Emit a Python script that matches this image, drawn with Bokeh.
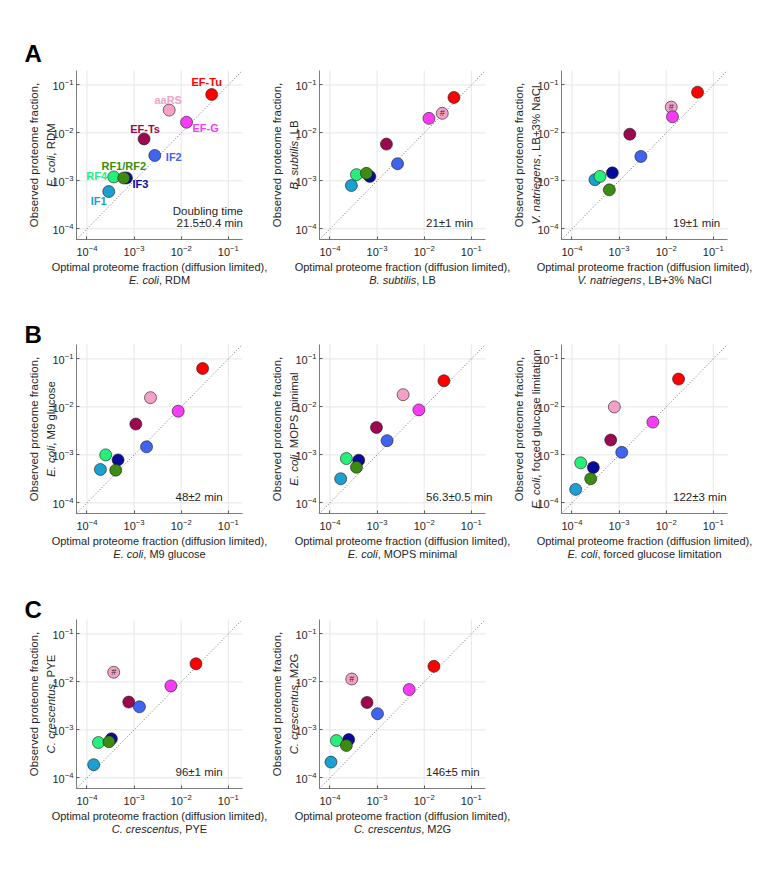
import math
from bokeh.plotting import figure
from bokeh.models import Label, ColumnDataSource, FixedTicker, LogAxis, LogScale, Range1d
from bokeh.core.properties import value
from bokeh.embed import file_html
from bokeh.resources import INLINE

# ---------------- data ----------------
proteins = ["EF-Tu", "aaRS", "EF-G", "EF-Ts", "IF2", "IF3", "IF1", "RF4", "RF1/RF2"]
colors = ["#FF0000", "#F5A0C6", "#F83CF5", "#9C0850", "#3F64F2", "#0A0A9A", "#1CA0D2", "#25F07A", "#3C8C12"]

tick_values = [1e-4, 1e-3, 1e-2, 1e-1]
axis_limits = [6e-5, 0.2]

# E. coli, RDM
ecoli_rdm_x = [0.0444, 0.00556, 0.0130, 0.00163, 0.00275, 0.000689, 0.00029, 0.00037, 0.000604]
ecoli_rdm_y = [0.0633, 0.0299, 0.0167, 0.0075, 0.00339, 0.00115, 0.0006, 0.00121, 0.00115]
# B. subtilis, LB
bsub_lb_x = [0.0428, 0.0242, 0.0126, 0.00158, 0.00272, 0.0007, 0.000285, 0.000365, 0.000594]
bsub_lb_y = [0.0548, 0.0256, 0.0201, 0.00584, 0.00228, 0.00124, 0.0008, 0.00135, 0.00144]
# V. natriegens, LB+3% NaCl
vnat_x = [0.0463, 0.0128, 0.0136, 0.00169, 0.0029, 0.00072, 0.000308, 0.000394, 0.000622]
vnat_y = [0.0706, 0.0345, 0.0217, 0.0094, 0.00323, 0.00147, 0.00106, 0.00124, 0.00065]
# E. coli, M9 glucose
ecoli_m9_x = [0.0285, 0.00223, 0.00863, 0.00109, 0.00184, 0.000457, 0.000193, 0.00025, 0.000408]
ecoli_m9_y = [0.0633, 0.0156, 0.00815, 0.00439, 0.00147, 0.000787, 0.000497, 0.001, 0.00048]
# E. coli, MOPS minimal
ecoli_mops_x = [0.0262, 0.00357, 0.0077, 0.00097, 0.00163, 0.000408, 0.000169, 0.000223, 0.000365]
ecoli_mops_y = [0.0351, 0.018, 0.00867, 0.00373, 0.00198, 0.000775, 0.000318, 0.000837, 0.000553]
# E. coli, forced glucose limitation
ecoli_glc_x = [0.0183, 0.000794, 0.00521, 0.000665, 0.00114, 0.000284, 0.00012, 0.000153, 0.00025]
ecoli_glc_y = [0.038, 0.01, 0.00482, 0.00204, 0.00113, 0.000545, 0.000191, 0.000682, 0.000318]
# C. crescentus, PYE
ccres_pye_x = [0.0206, 0.00037, 0.00604, 0.00077, 0.0013, 0.00033, 0.000139, 0.000175, 0.000294]
ccres_pye_y = [0.0239, 0.0159, 0.00826, 0.0038, 0.00303, 0.00065, 0.000188, 0.000545, 0.000565]
# C. crescentus, M2G
ccres_m2g_x = [0.0161, 0.00029, 0.0048, 0.000612, 0.00102, 0.00025, 0.000105, 0.000137, 0.000223]
ccres_m2g_y = [0.0211, 0.0115, 0.00693, 0.00373, 0.00217, 0.000629, 0.000213, 0.0006, 0.000473]

organisms = ["E. coli", "B. subtilis", "V. natriegens", "E. coli", "E. coli", "E. coli",
             "C. crescentus", "C. crescentus"]
conditions = [", RDM", ", LB", ", LB+3% NaCl", ", M9 glucose", ", MOPS minimal",
              ", forced glucose limitation", ", PYE", ", M2G"]
doubling_times = ["21.5\u00b10.4 min", "21\u00b11 min", "19\u00b11 min", "48\u00b12 min", "56.3\u00b10.5 min",
                  "122\u00b13 min", "96\u00b11 min", "146\u00b15 min"]
hash_marked = [False, True, True, False, False, False, True, True]
panel_letters = ["A", None, None, "B", None, None, "C", None]

# label offsets (pixels, to the text's middle) for the annotated panel A
label_dx = [-5, -1, 19, 1, 19, 14, -10, -17, 0]
label_dy = [-12, -10, 6, -10, 2, 6, 9, -1, -12]

# ---------------- layout / styling ----------------
FIG_W, FIG_H = 760, 866
col_left = [76, 319, 561]
row_top = [70, 344, 619]
BOX_W, BOX_H = 166, 169
dt_offset = [None, 106.5, 111.5, 99, 106.5, 111.5, 99, 106.5]
letter_base = {"A": 62, "B": 343, "C": 618}

FONT = "Liberation Sans"
TXT = "#262626"
XLAB = 11.0
YLAB = 11.4
ANN = 11.5

W = {' ': 278, ',': 278, '.': 278, '+': 584, '%': 889, '-': 333, '/': 278, '(': 333, ')': 333,
     'A': 667, 'B': 667, 'C': 722, 'D': 722, 'E': 667, 'G': 778, 'L': 556, 'M': 833, 'N': 722,
     'O': 778, 'P': 667, 'R': 722, 'S': 667, 'V': 667, 'Y': 667,
     'a': 556, 'b': 556, 'c': 500, 'd': 556, 'e': 556, 'f': 278, 'g': 556, 'h': 556, 'i': 222,
     'l': 222, 'm': 833, 'n': 556, 'o': 556, 'p': 556, 'r': 333, 's': 500, 't': 278, 'u': 556,
     'v': 500, 'y': 500, 'x': 500}


def tw(s, size):
    return sum(W.get(ch, 556) for ch in s) / 1000.0 * size


p = figure(width=FIG_W, height=FIG_H, x_range=Range1d(0, FIG_W), y_range=Range1d(FIG_H, 0),
           x_axis_location=None, y_axis_location=None, min_border=0, toolbar_location=None,
           output_backend="svg", outline_line_color=None, background_fill_color="white",
           border_fill_color="white")
p.grid.visible = False


def add_text(x, y, text, size, style="normal", align="left", angle=0.0, color=TXT):
    p.add_layout(Label(x=x, y=y, text=text, text_font=FONT,
                       text_font_size=f"{size}px", text_font_style=style, text_align=align,
                       text_baseline="middle", angle=angle, text_color=color))


def add_base(x, base, text, size, **kw):
    # place text given its baseline (converted to the middle of the capitals)
    add_text(x, base - 0.36 * size, text, size, **kw)


la, lb = math.log10(axis_limits[0]), math.log10(axis_limits[1])
series = [(ecoli_rdm_x, ecoli_rdm_y), (bsub_lb_x, bsub_lb_y), (vnat_x, vnat_y),
          (ecoli_m9_x, ecoli_m9_y), (ecoli_mops_x, ecoli_mops_y), (ecoli_glc_x, ecoli_glc_y),
          (ccres_pye_x, ccres_pye_y), (ccres_m2g_x, ccres_m2g_y)]

xr, yr, xsc, ysc = {}, {}, {}, {}
boxes = []
for i in range(len(series)):
    r, c = divmod(i, 3)
    L, T = col_left[c], row_top[r]
    R, B = L + BOX_W, T + BOX_H
    kx = (lb - la) / BOX_W
    ky = (lb - la) / BOX_H
    xr[f"x{i}"] = Range1d(10 ** (la - L * kx), 10 ** (lb + (FIG_W - R) * kx))
    yr[f"y{i}"] = Range1d(10 ** (la - (FIG_H - B) * ky), 10 ** (lb + T * ky))
    xsc[f"x{i}"] = LogScale()
    ysc[f"y{i}"] = LogScale()
    boxes.append((L, T))
p.extra_x_ranges = xr
p.extra_y_ranges = yr
p.extra_x_scales = xsc
p.extra_y_scales = ysc

for i, (xs, ys) in enumerate(series):
    xn, yn = f"x{i}", f"y{i}"
    L, T = boxes[i]
    R, B = L + BOX_W, T + BOX_H

    # grid
    n = len(tick_values)
    p.segment(x0=tick_values, x1=tick_values, y0=[axis_limits[0]] * n, y1=[axis_limits[1]] * n,
              x_range_name=xn, y_range_name=yn, line_color="#e6e6e6", line_width=1)
    p.segment(y0=tick_values, y1=tick_values, x0=[axis_limits[0]] * n, x1=[axis_limits[1]] * n,
              x_range_name=xn, y_range_name=yn, line_color="#e6e6e6", line_width=1)

    # axes
    xa = LogAxis(x_range_name=xn, y_range_name=yn, fixed_location=axis_limits[0],
                 bounds=(axis_limits[0], axis_limits[1]),
                 ticker=FixedTicker(ticks=tick_values, minor_ticks=[]))
    ya = LogAxis(x_range_name=xn, y_range_name=yn, fixed_location=axis_limits[0],
                 bounds=(axis_limits[0], axis_limits[1]),
                 ticker=FixedTicker(ticks=tick_values, minor_ticks=[]))
    for ax in (xa, ya):
        ax.major_tick_in = 3
        ax.major_tick_out = 0
        ax.minor_tick_line_color = None
        ax.axis_line_color = "#5a5a5a"
        ax.axis_line_width = 0.8
        ax.major_tick_line_color = "#5a5a5a"
        ax.major_label_text_font = FONT
        ax.major_label_text_font_size = "11px"
        ax.major_label_text_color = TXT
    xa.major_label_standoff = 5
    ya.major_label_standoff = 3
    p.add_layout(xa, "below")
    p.add_layout(ya, "left")

    # identity line
    p.line(axis_limits, axis_limits, x_range_name=xn, y_range_name=yn,
           line_dash="1 2", line_color="#707070", line_width=1)

    src = ColumnDataSource(dict(x=xs, y=ys, color=colors, name=proteins, dx=label_dx, dy=label_dy))
    p.scatter("x", "y", source=src, x_range_name=xn, y_range_name=yn, size=12,
              fill_color="color", line_color="#1a1a1a", line_width=0.6)

    if hash_marked[i]:
        p.text([xs[1]], [ys[1]], text=["#"], x_range_name=xn, y_range_name=yn,
               text_align="center", text_baseline="middle",
               text_font=value(FONT), text_font_size="9px", text_color="#333333")

    if i == 0:
        p.text("x", "y", text="name", source=src, x_range_name=xn, y_range_name=yn,
               x_offset="dx", y_offset="dy", text_color="color", text_font=value(FONT),
               text_font_style="bold", text_font_size="11px", text_align="center",
               text_baseline="middle")
        add_base(R + 0.5, B - 24, "Doubling time", ANN, align="right")
        add_base(R + 0.5, B - 12.3, doubling_times[i], ANN, align="right")
    else:
        add_base(L + dt_offset[i], B - 12.5, doubling_times[i], ANN)

    # x label
    cx = (L + R) / 2
    add_text(cx, B + 27, "Optimal proteome fraction (diffusion limited),", XLAB, align="center")
    ital, rest = organisms[i], conditions[i]
    tot = tw(ital, XLAB) + tw(rest, XLAB)
    x0 = cx - tot / 2
    add_text(x0, B + 40.5, ital, XLAB, style="italic")
    add_text(x0 + tw(ital, XLAB), B + 40.5, rest, XLAB)

    # y label
    cy = (T + B) / 2
    add_text(L - 43, cy, "Observed proteome fraction,", YLAB, align="center", angle=math.pi / 2)
    tot = tw(ital, YLAB) + tw(rest, YLAB)
    y0 = cy + tot / 2
    add_text(L - 26, y0, ital, YLAB, style="italic", angle=math.pi / 2)
    add_text(L - 26, y0 - tw(ital, YLAB), rest, YLAB, angle=math.pi / 2)

    if panel_letters[i]:
        add_base(L - 52, letter_base[panel_letters[i]], panel_letters[i], 24, style="bold",
                 color="#000000")

open("out.html", "w").write(file_html(p, INLINE))
